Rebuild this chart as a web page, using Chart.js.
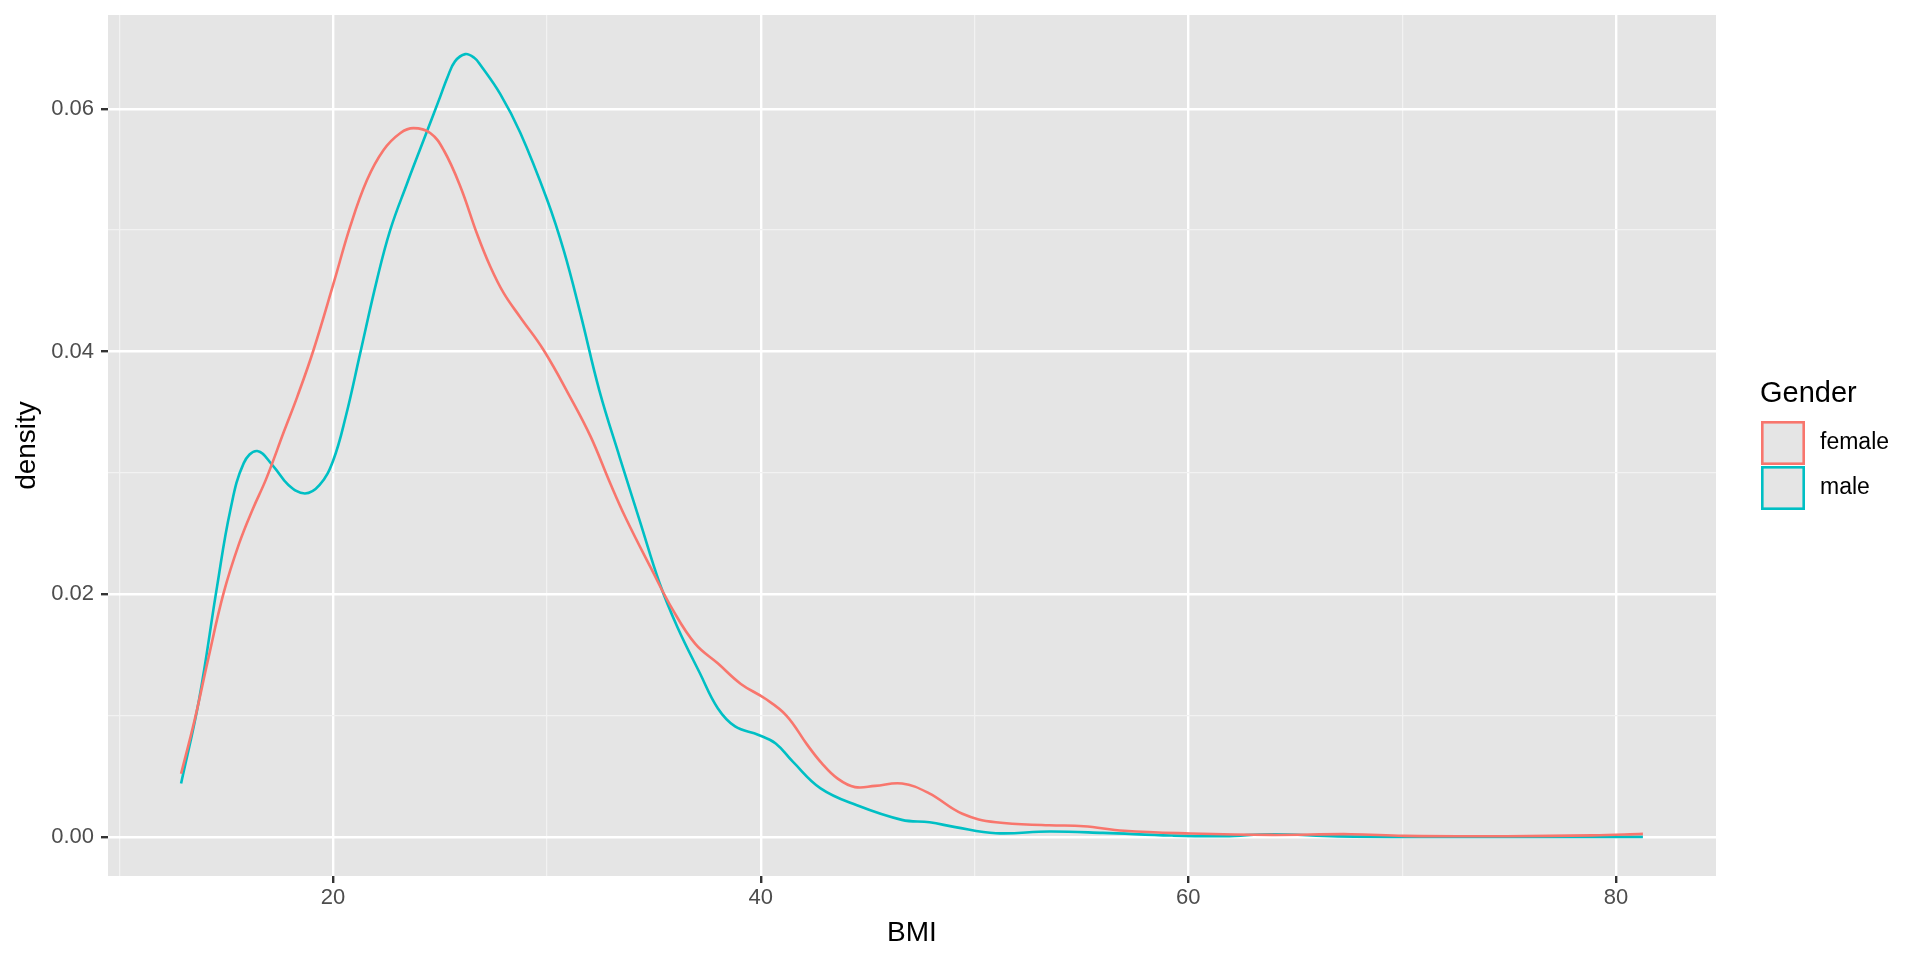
<!DOCTYPE html>
<html>
<head>
<meta charset="utf-8">
<title>BMI density by gender</title>
<script src="https://cdn.jsdelivr.net/npm/chart.js@4"></script>
<style>
  html, body { margin: 0; padding: 0; background: #ffffff; }
  canvas { display: block; }
</style>
</head>
<body>
<canvas id="densityChart" width="1920" height="960"></canvas>
<script>
// Data
const femaleBmi = [12.89, 13.52, 14.15, 14.88, 15.61, 16.24, 16.87, 17.70, 18.33, 19.08, 20.02, 20.8, 21.58, 22.36, 23.15, 23.76, 24.54, 25.17, 25.95, 26.73, 27.35, 27.98, 28.76, 29.85, 31.10, 32.04, 32.97, 33.68, 34.85, 35.89, 36.94, 37.99, 39.07, 40.2, 41.2, 42.17, 42.84, 43.6, 44.41, 45.35, 46.61, 47.86, 49.43, 51.0, 53.5, 55.1, 57.0, 60.1, 63.9, 67.6, 70.1, 74.9, 78.9, 81.26];
const femaleDensity = [0.0052, 0.0096, 0.0146, 0.0201, 0.0242, 0.0270, 0.0295, 0.0334, 0.0363, 0.0401, 0.0456, 0.0503, 0.0541, 0.0566, 0.0580, 0.0584, 0.0580, 0.0566, 0.0536, 0.0497, 0.0470, 0.0448, 0.0428, 0.0401, 0.0362, 0.0330, 0.0291, 0.0263, 0.0222, 0.0187, 0.0159, 0.0143, 0.0126, 0.0114, 0.0100, 0.0076, 0.0061, 0.0048, 0.0041, 0.0042, 0.0044, 0.0036, 0.0019, 0.0012, 0.00096, 0.00088, 0.0005, 0.00028, 0.00016, 0.00022, 0.00008, 0.00005, 0.00012, 0.00025];

const maleBmi = [12.89, 13.73, 14.57, 15.19, 15.82, 16.45, 17.18, 17.91, 18.68, 19.37, 20.0, 20.6, 21.26, 22.05, 22.67, 23.45, 24.23, 25.01, 25.35, 25.7, 26.18, 26.6, 26.89, 27.82, 28.76, 30.01, 30.79, 31.57, 32.45, 33.4, 34.35, 35.27, 36.10, 37.15, 37.99, 38.8, 39.9, 40.7, 41.5, 42.8, 44.5, 46.6, 47.9, 49.1, 51.0, 53.5, 56.0, 59.2, 61.7, 63.9, 67.0, 72.0, 81.26];
const maleDensity = [0.0044, 0.0113, 0.0206, 0.0269, 0.0308, 0.0318, 0.0306, 0.0290, 0.0283, 0.0290, 0.0310, 0.0347, 0.0398, 0.0459, 0.0500, 0.0538, 0.0574, 0.0610, 0.0626, 0.0639, 0.0645, 0.0642, 0.0636, 0.0612, 0.0580, 0.0525, 0.0483, 0.0431, 0.0368, 0.0313, 0.0260, 0.0209, 0.0173, 0.0135, 0.0106, 0.0091, 0.0084, 0.0077, 0.0062, 0.0040, 0.0026, 0.0014, 0.0012, 0.0008, 0.0003, 0.00044, 0.00033, 0.00011, 0.00006, 0.00022, 0.00004, 0.0, 0.0];

const genders = ['female', 'male'];
const genderColors = ['#F8766D', '#00BFC4'];

// axis breaks (major get labels, minor only grid lines)
const xMajor = [20, 40, 60, 80];
const xMinor = [10, 30, 50, 70];
const yMajor = [0, 0.02, 0.04, 0.06];
const yMinor = [0.01, 0.03, 0.05];
const yTickLabels = ['0.00', '0.02', '0.04', '0.06'];

const FONT = '"Liberation Sans", Arial, Helvetica, sans-serif';
const PANEL_BG = '#E5E5E5';

// ggplot style 5% expansion of the data range
const xLo = Math.min(...femaleBmi, ...maleBmi);
const xHi = Math.max(...femaleBmi, ...maleBmi);
const yHi = Math.max(...femaleDensity, ...maleDensity);
const xPad = (xHi - xLo) * 0.05;
const yPad = yHi * 0.05;

const isIn = (arr, v) => arr.some(a => Math.abs(a - v) < 1e-9);

const toPoints = (xs, ys) => xs.map((x, i) => ({ x: x, y: ys[i] }));

// Panel background like theme_grey
const panelBackground = {
    id: 'panelBackground',
    beforeDraw(chart) {
        const { ctx, chartArea } = chart;
        ctx.save();
        ctx.fillStyle = PANEL_BG;
        ctx.fillRect(chartArea.left, chartArea.top, chartArea.right - chartArea.left, chartArea.bottom - chartArea.top);
        ctx.restore();
    }
};

// Legend drawn on the right, ggplot style keys
const ggLegend = {
    id: 'ggLegend',
    afterDraw(chart) {
        const ctx = chart.ctx;
        const left = 1761;
        ctx.save();
        ctx.fillStyle = '#000000';
        ctx.font = '29px ' + FONT;
        ctx.textBaseline = 'middle';
        ctx.textAlign = 'left';
        ctx.fillText('Gender', left - 1, 394);

        const keySize = 44;
        let top = 421;
        chart.data.datasets.forEach((ds, i) => {
            ctx.fillStyle = PANEL_BG;
            ctx.fillRect(left, top, keySize, keySize);
            ctx.strokeStyle = ds.borderColor;
            ctx.lineWidth = 2.6;
            ctx.strokeRect(left + 1.3, top + 1.3, keySize - 2.6, keySize - 2.6);
            ctx.fillStyle = '#000000';
            ctx.font = '23px ' + FONT;
            ctx.fillText(ds.label, 1820, top + keySize / 2);
            top += keySize + 1;
        });
        ctx.restore();
    }
};

const gridColor = (major) => ctx => {
    const v = ctx.tick ? ctx.tick.value : null;
    return (v !== null && isIn(major, v)) ? '#FFFFFF' : '#F2F2F2';
};
const gridWidth = (major) => ctx => {
    const v = ctx.tick ? ctx.tick.value : null;
    return (v !== null && isIn(major, v)) ? 2.4 : 1.2;
};
const tickColor = (major) => ctx => {
    const v = ctx.tick ? ctx.tick.value : null;
    return (v !== null && isIn(major, v)) ? '#333333' : 'rgba(0,0,0,0)';
};

// drop the extra label padding Chart.js adds around the plot area
const noEdgePadding = scale => {
    scale.paddingTop = 0;
    scale.paddingBottom = 0;
    scale.paddingLeft = 0;
    scale.paddingRight = 0;
};

new Chart(document.getElementById('densityChart'), {
    type: 'line',
    data: {
        datasets: [
            {
                label: genders[0],
                data: toPoints(femaleBmi, femaleDensity),
                borderColor: genderColors[0],
                borderWidth: 2.6,
                pointRadius: 0,
                tension: 0.4,
                fill: false
            },
            {
                label: genders[1],
                data: toPoints(maleBmi, maleDensity),
                borderColor: genderColors[1],
                borderWidth: 2.6,
                pointRadius: 0,
                tension: 0.4,
                fill: false
            }
        ]
    },
    options: {
        responsive: false,
        animation: false,
        devicePixelRatio: 1,
        layout: { padding: { top: 15, right: 204, left: 0, bottom: 0 } },
        plugins: {
            legend: { display: false },
            tooltip: { enabled: false }
        },
        scales: {
            x: {
                type: 'linear',
                min: xLo - xPad,
                max: xHi + xPad,
                afterBuildTicks: scale => {
                    scale.ticks = [...xMinor, ...xMajor].sort((a, b) => a - b).map(v => ({ value: v }));
                },
                afterFit: scale => { scale.height = 84; noEdgePadding(scale); },
                border: { display: false },
                grid: {
                    color: gridColor(xMajor),
                    lineWidth: gridWidth(xMajor),
                    tickColor: tickColor(xMajor),
                    tickWidth: 2.4,
                    tickLength: 7
                },
                ticks: {
                    autoSkip: false,
                    maxRotation: 0,
                    padding: 2,
                    color: '#4D4D4D',
                    font: { family: FONT, size: 22 },
                    callback: v => isIn(xMajor, v) ? String(v) : ''
                },
                title: {
                    display: true,
                    text: 'BMI',
                    color: '#000000',
                    font: { family: FONT, size: 28 },
                    padding: { top: 10, bottom: 10 }
                }
            },
            y: {
                type: 'linear',
                min: -yPad,
                max: yHi + yPad,
                afterBuildTicks: scale => {
                    scale.ticks = [...yMinor, ...yMajor].sort((a, b) => a - b).map(v => ({ value: v }));
                },
                afterFit: scale => { scale.width = 108; noEdgePadding(scale); },
                border: { display: false },
                grid: {
                    color: gridColor(yMajor),
                    lineWidth: gridWidth(yMajor),
                    tickColor: tickColor(yMajor),
                    tickWidth: 2.4,
                    tickLength: 7
                },
                ticks: {
                    autoSkip: false,
                    padding: 7,
                    color: '#4D4D4D',
                    font: { family: FONT, size: 22 },
                    callback: v => {
                        const i = yMajor.findIndex(m => Math.abs(m - v) < 1e-9);
                        return i >= 0 ? yTickLabels[i] : '';
                    }
                },
                title: {
                    display: true,
                    text: 'density',
                    color: '#000000',
                    font: { family: FONT, size: 28 },
                    padding: { top: 10, bottom: 10 }
                }
            }
        }
    },
    plugins: [panelBackground, ggLegend]
});
</script>
</body>
</html>
